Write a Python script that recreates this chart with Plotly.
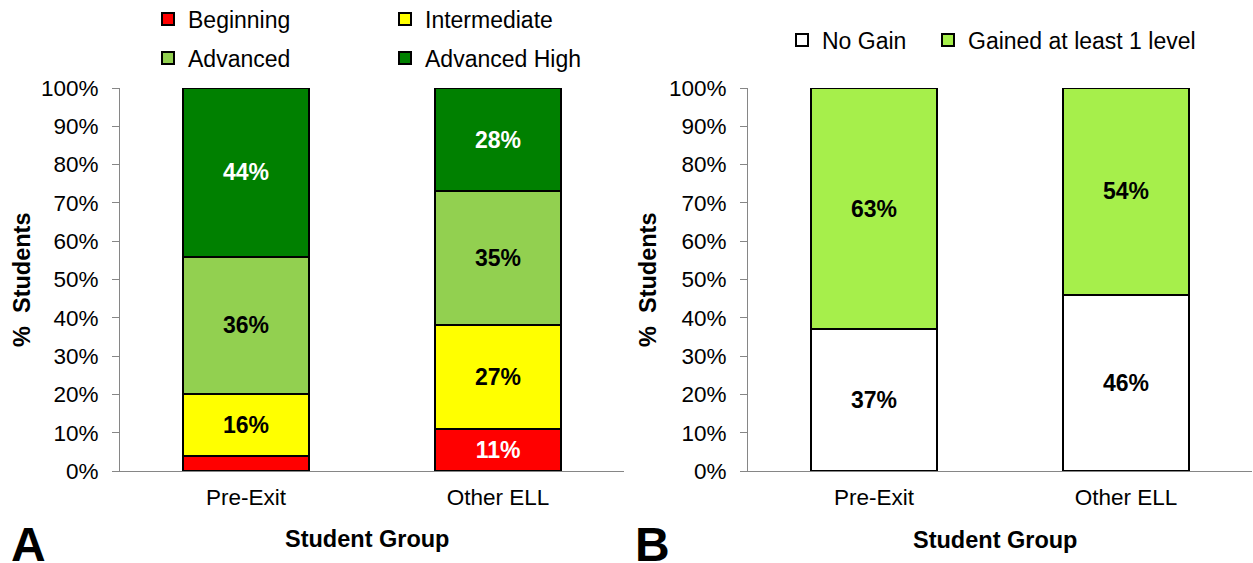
import plotly.graph_objects as go

FONT = "Arial, Liberation Sans, sans-serif"

groups = ["Pre-Exit", "Other ELL"]

# panel A: proficiency level at exit (% students)
level_names = ["Beginning", "Intermediate", "Advanced", "Advanced High"]
level_colors = ["#FF0000", "#FFFF00", "#92D050", "#008000"]
level_values = [
    [4, 11],     # Beginning
    [16, 27],    # Intermediate
    [36, 35],    # Advanced
    [44, 27],    # Advanced High
]
level_labels = [
    ["", "11%"],
    ["16%", "27%"],
    ["36%", "35%"],
    ["44%", "28%"],
]
level_text_colors = [
    ["white", "white"],
    ["black", "black"],
    ["black", "black"],
    ["white", "white"],
]
level_legend = ["legend", "legend", "legend3", "legend3"]

# panel B: gain in level (% students)
gain_names = ["No Gain", "Gained at least 1 level"]
gain_colors = ["#FFFFFF", "#A6EF4B"]
gain_values = [
    [37, 46],
    [63, 54],
]
gain_labels = [
    ["37%", "46%"],
    ["63%", "54%"],
]
gain_legend = ["legend2", "legend4"]

W, H = 1253, 563


def px_x(x):
    return x / W


def px_y(y):
    return 1 - y / H


fig = go.Figure()

for name, color, vals, labels, tcol, lg in zip(
    level_names, level_colors, level_values, level_labels, level_text_colors, level_legend
):
    fig.add_trace(
        go.Bar(
            x=groups,
            y=vals,
            name=name,
            marker=dict(color=color, line=dict(color="black", width=2)),
            text=labels,
            textposition="inside",
            insidetextanchor="middle",
            textangle=0,
            textfont=dict(family=FONT, size=23, color=tcol, weight="bold"),
            width=0.5,
            legend=lg,
            xaxis="x",
            yaxis="y",
        )
    )

for name, color, vals, labels, lg in zip(gain_names, gain_colors, gain_values, gain_labels, gain_legend):
    fig.add_trace(
        go.Bar(
            x=groups,
            y=vals,
            name=name,
            marker=dict(color=color, line=dict(color="black", width=2)),
            text=labels,
            textposition="inside",
            insidetextanchor="middle",
            textangle=0,
            textfont=dict(family=FONT, size=23, color="black", weight="bold"),
            width=0.5,
            legend=lg,
            xaxis="x2",
            yaxis="y2",
        )
    )

axis_gray = "#868686"
tick_font = dict(family=FONT, size=22.5, color="black")

yaxis_common = dict(
    range=[0, 100],
    tickvals=[0, 10, 20, 30, 40, 50, 60, 70, 80, 90, 100],
    ticktext=[f"{v}%" for v in range(0, 101, 10)],
    showgrid=False,
    zeroline=False,
    showline=True,
    linecolor=axis_gray,
    linewidth=1,
    ticks="outside",
    ticklen=7,
    tickcolor=axis_gray,
    tickfont=tick_font,
    ticklabelstandoff=9,
    domain=[px_y(471), px_y(88)],
)
xaxis_common = dict(
    showgrid=False,
    showline=True,
    linecolor=axis_gray,
    linewidth=1,
    ticks="",
    tickfont=tick_font,
    ticklabelstandoff=6,
)

legend_common = dict(
    orientation="h",
    font=dict(family=FONT, size=23, color="black"),
    bgcolor="rgba(0,0,0,0)",
    xanchor="left",
    yanchor="middle",
    traceorder="normal",
    itemclick=False,
    itemdoubleclick=False,
    entrywidthmode="pixels",
)

title_font = dict(family=FONT, size=23.5, weight="bold")


def label(text, x, y, size=None, angle=0):
    font = title_font if size is None else dict(family=FONT, size=size, weight="bold")
    return dict(text=text, x=px_x(x), y=px_y(y), xref="paper", yref="paper",
                xanchor="center", yanchor="middle", textangle=angle,
                showarrow=False, font=font)


fig.update_layout(
    width=W,
    height=H,
    margin=dict(l=0, r=0, t=0, b=0, autoexpand=False),
    paper_bgcolor="white",
    plot_bgcolor="white",
    barmode="stack",
    font=dict(family=FONT, color="black"),
    xaxis=dict(xaxis_common, domain=[px_x(120), px_x(624)], anchor="y"),
    yaxis=dict(yaxis_common, anchor="x"),
    xaxis2=dict(xaxis_common, domain=[px_x(748), px_x(1252)], anchor="y2"),
    yaxis2=dict(yaxis_common, anchor="x2"),
    legend=dict(legend_common, x=px_x(148), y=px_y(19), entrywidth=192),
    legend3=dict(legend_common, x=px_x(148), y=px_y(58), entrywidth=192),
    legend2=dict(legend_common, x=px_x(782), y=px_y(40)),
    legend4=dict(legend_common, x=px_x(928), y=px_y(40)),
    annotations=[
        label("%  Students", 22, 280, angle=-90),
        label("%  Students", 648, 280, angle=-90),
        label("Student Group", 367, 539),
        label("Student Group", 995, 540),
        label("A", 28, 544, size=48),
        label("B", 652, 544, size=48),
    ],
)

# page body has a default 8px margin; drop it so the chart sits at the window corner
fig.write_html(
    "out.html",
    config={"displayModeBar": False},
    post_script="document.body.style.margin='0';",
)
